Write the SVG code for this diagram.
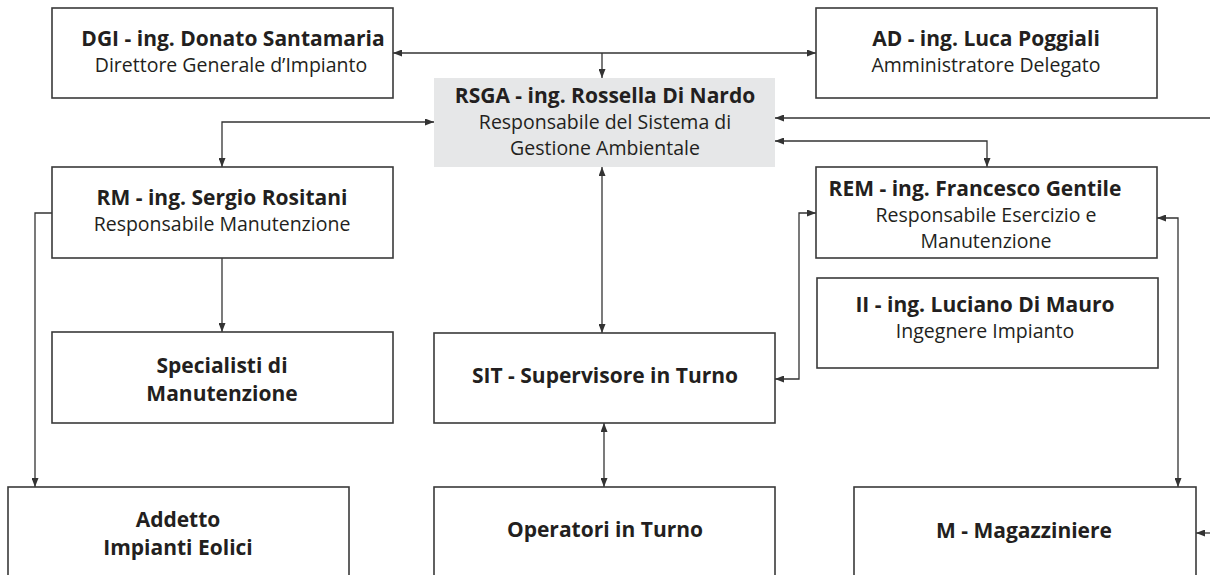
<svg xmlns="http://www.w3.org/2000/svg" width="1210" height="575" viewBox="0 0 1210 575">
<style>
.box{fill:#fff;stroke:#3a3a3a;stroke-width:1.6}
.gray{fill:#e6e7e8;stroke:none}
.t{font-family:"Open Sans","Liberation Sans",sans-serif;font-weight:bold;font-size:21px;fill:#231f20;text-anchor:middle}
.s{font-family:"Open Sans","Liberation Sans",sans-serif;font-size:19.5px;fill:#231f20;text-anchor:middle}
.c{fill:none;stroke:#333;stroke-width:1.3}
</style>
<defs>
<marker id="a" markerUnits="userSpaceOnUse" markerWidth="9" markerHeight="7" refX="9" refY="3.5" orient="auto-start-reverse">
<path d="M0,0 L9,3.5 L0,7 z" fill="#333"/>
</marker>
</defs>
<rect width="1210" height="575" fill="#fff"/>
<g id="connectors">
<path class="c" d="M393,53 H816" marker-start="url(#a)" marker-end="url(#a)"/>
<path class="c" d="M602,53 V78" marker-end="url(#a)"/>
<path class="c" d="M434,122 H222 V167" marker-start="url(#a)" marker-end="url(#a)"/>
<path class="c" d="M602,167 V333" marker-start="url(#a)" marker-end="url(#a)"/>
<path class="c" d="M222,258 V332" marker-end="url(#a)"/>
<path class="c" d="M52,213 H35 V487" marker-end="url(#a)"/>
<path class="c" d="M775,379 H799 V213 H816" marker-start="url(#a)" marker-end="url(#a)"/>
<path class="c" d="M604,423 V487" marker-start="url(#a)" marker-end="url(#a)"/>
<path class="c" d="M1210,118 H775" marker-end="url(#a)"/>
<path class="c" d="M775,141 H987 V167" marker-start="url(#a)" marker-end="url(#a)"/>
<path class="c" d="M1157,218 H1178 V487" marker-start="url(#a)" marker-end="url(#a)"/>
<path class="c" d="M1210,533 H1196" marker-end="url(#a)"/>
</g>
<g id="dgi">
<rect class="box" x="52" y="8" width="341" height="90"/>
<text class="t" x="233" y="46">DGI - ing. Donato Santamaria</text>
<text class="s" x="231" y="72">Direttore Generale d’Impianto</text>
</g>
<g id="ad">
<rect class="box" x="816" y="8" width="341" height="90"/>
<text class="t" x="986" y="46">AD - ing. Luca Poggiali</text>
<text class="s" x="986" y="72">Amministratore Delegato</text>
</g>
<g id="rsga">
<rect class="gray" x="434" y="78" width="341" height="89"/>
<text class="t" x="605" y="103">RSGA - ing. Rossella Di Nardo</text>
<text class="s" x="605" y="129">Responsabile del Sistema di</text>
<text class="s" x="605" y="155">Gestione Ambientale</text>
</g>
<g id="rm">
<rect class="box" x="52" y="167" width="341" height="91"/>
<text class="t" x="222" y="205">RM - ing. Sergio Rositani</text>
<text class="s" x="222" y="231">Responsabile Manutenzione</text>
</g>
<g id="rem">
<rect class="box" x="816" y="167" width="341" height="91"/>
<text class="t" x="975" y="196">REM - ing. Francesco Gentile</text>
<text class="s" x="986" y="222">Responsabile Esercizio e</text>
<text class="s" x="986" y="248">Manutenzione</text>
</g>
<g id="ii">
<rect class="box" x="817" y="278" width="341" height="90"/>
<text class="t" x="985" y="312">II - ing. Luciano Di Mauro</text>
<text class="s" x="985" y="338">Ingegnere Impianto</text>
</g>
<g id="specialisti">
<rect class="box" x="52" y="332" width="341" height="91"/>
<text class="t" x="222" y="373">Specialisti di</text>
<text class="t" x="222" y="401">Manutenzione</text>
</g>
<g id="sit">
<rect class="box" x="434" y="333" width="341" height="90"/>
<text class="t" x="605" y="383">SIT - Supervisore in Turno</text>
</g>
<g id="addetto">
<rect class="box" x="8" y="487" width="341" height="120"/>
<text class="t" x="178" y="527">Addetto</text>
<text class="t" x="178" y="555">Impianti Eolici</text>
</g>
<g id="operatori">
<rect class="box" x="434" y="487" width="341" height="120"/>
<text class="t" x="605" y="537">Operatori in Turno</text>
</g>
<g id="magazziniere">
<rect class="box" x="854" y="487" width="342" height="120"/>
<text class="t" x="1024" y="538">M - Magazziniere</text>
</g>
</svg>
